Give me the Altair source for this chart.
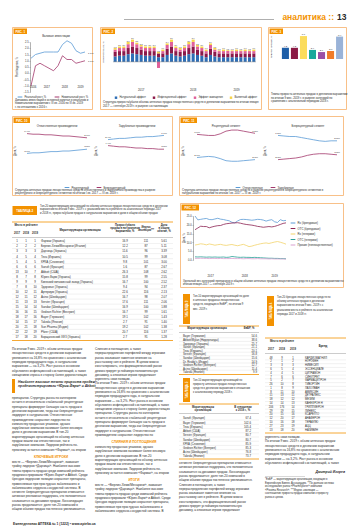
import json
import textwrap
import altair as alt
import pandas as pd

FONT = "Liberation Sans"
ORANGE = "#f39200"
BOXC = "#f6b06a"
INK = "#2a2a2a"
RULE = "#cfcfcf"
BLUE = "#5b9bd5"
PURP = "#a3386c"

# ======================= DATA =======================
HEADER_WORD = "аналитика ::"
HEADER_PAGE = "13"

# Рис. 1
F1_PERIODS = ["III кв.", "IV кв.", "I кв.", "II кв.", "III кв.", "IV кв.", "I кв.",
              "II кв.", "III кв.", "IV кв.", "I кв.", "II кв.", "III кв."]
F1_YEARS = ["2016", "2017", "2018", "2019"]
F1_YEAR_POS = [0.5, 3.5, 7.5, 11.0]
F1_SERIES = ["Реальный рост, %", "Номинальный рост, %"]
F1_REAL = [1.2, 1.5, 1.6, 1.7, 1.7, 1.7, 1.7, 2.3, 2.6, 2.4, 1.8, 1.6, 1.7]
F1_NOMINAL = [-1.0, 0.6, 0.8, 0.6, 0.4, 0.2, 0.6, 1.4, 1.1, 1.1, 0.8, 0.9, 1.0]
F1_TICKS = [-1.5, -1.0, -0.5, 0.0, 0.5, 1.0, 1.5, 2.0, 2.5]

# Рис. 2
F2_MONTHS = ["Январь", "Февраль", "Март", "Апрель", "Май", "Июнь", "Июль", "Август",
             "Сентябрь", "Октябрь", "Ноябрь", "Декабрь",
             "Январь", "Февраль", "Март", "Апрель", "Май", "Июнь", "Июль", "Август",
             "Сентябрь", "Октябрь", "Ноябрь", "Декабрь",
             "Январь", "Февраль", "Март", "Апрель", "Май", "Июнь", "Июль", "Август", "Сентябрь"]
F2_MONTH_YEARS = ["2017"] * 12 + ["2018"] * 12 + ["2019"] * 9
F2_COMPONENTS = ["Натуральный эффект", "Инфляционный эффект", "Эффект замещения", "Валютный эффект"]
F2_BLUE = [0.7, 0.8, 0.8, 1.0, 1.1, 1.0, 0.9, 0.8, 0.8, 0.8, 0.6, 0.6,
           0.9, 1.1, 0.8, 0.7, 0.8, 1.0, 1.1, 0.9, 0.8, 0.6, 0.9, 0.7,
           0.6, 0.6, 0.6, 0.6, 0.6, 0.6, 0.6, 0.6, 0.6]
F2_MAROON = [0.6, 0.6, 0.6, 0.8, 0.9, 0.8, 0.7, 0.6, 0.6, 0.6, 0.5, 0.5,
             0.8, 0.9, 0.6, 0.6, 0.6, 0.8, 0.9, 0.7, 0.6, 0.5, 0.8, 0.6,
             0.5, 0.5, 0.5, 0.5, 0.5, 0.5, 0.5, 0.5, 0.5]
F2_PINK = [0.3, 0.4, 0.4, 0.5, 0.6, 0.5, 0.4, 0.4, 0.4, 0.4, -0.8, 0.3,
           0.5, 0.6, 0.4, 0.3, 0.4, 0.5, 0.6, 0.4, 0.4, 0.3, 0.5, 0.3,
           0.3, 0.3, 0.3, 0.3, 0.3, 0.3, 0.3, 0.3, 0.3]
F2_YELLOW = [0.2, 0.2, 0.2, 0.3, 0.3, 0.2, 0.2, 0.2, 0.2, 0.2, 0.2, 0.2,
             0.2, 0.3, 0.2, 0.2, 0.2, 0.3, 0.3, 0.2, 0.2, 0.2, 0.2, 0.2,
             0.1, 0.2, 0.1, 0.1, 0.2, 0.1, 0.2, 0.1, 0.2]
F2_COLORS = ["#2f6eb5", "#8b1a4a", "#e0609a", "#f7d44a"]
F2_TICKS = [-1.0, -0.5, 0.0, 0.5, 1.0, 1.5, 2.0, 2.5, 3.0, 3.5]

# Рис. 3
F3_CATS = ["Лекарственные средства", "Медицинские изделия", "Диетические добавки",
           "Косметика", "Лечебная косметика и гигиена", "Детское питание", "Рынок в целом"]
F3_VALUES = [4.2, 4.2, 8.6, 3.4, 2.6, 3.0, 8.4]
F3_COLORS = ["#1f5fa8", "#8b1a45", "#fbdc5c", "#1aa89c", "#9b4fa5", "#f07c2a", "#9ab3d8"]
F3_TICKS = [0, 1, 2, 3, 4, 5, 6, 7, 8, 9]

# Рис. 10 / 11
QUARTERS = ["I кв. 2017", "II кв. 2017", "III кв. 2017", "IV кв. 2017",
            "I кв. 2018", "II кв. 2018", "III кв. 2018", "IV кв. 2018",
            "I кв. 2019", "II кв. 2019", "III кв. 2019"]
SEG_SERIES = ["Рецептурный", "Безрецептурный"]
F10_L_BLUE = [3.1, 3.2, 3.2, 3.3, 3.4, 3.4, 3.5, 3.5, 3.6, 3.7, 3.8]
F10_L_PURP = [6.4, 6.3, 6.3, 6.2, 6.2, 6.1, 6.0, 6.0, 5.9, 5.8, 5.7]
F10_R_BLUE = [5.4, 5.5, 5.6, 5.6, 5.7, 5.8, 5.8, 5.9, 5.9, 6.0, 6.1]
F10_R_PURP = [4.4, 4.3, 4.2, 4.2, 4.1, 4.0, 4.0, 3.9, 3.9, 3.8, 3.8]
F11_L_BLUE = [2.7, 2.8, 2.9, 2.8, 2.5, 2.1, 2.0, 2.0, 2.1, 2.2, 2.3]
F11_L_PURP = [7.0, 6.9, 6.8, 6.8, 7.1, 7.6, 7.8, 7.8, 7.6, 7.4, 7.2]
F11_R_BLUE = [6.8, 6.7, 6.6, 6.6, 6.4, 6.2, 6.0, 5.8, 5.7, 5.8, 5.8]
F11_R_PURP = [2.3, 2.4, 2.5, 2.6, 2.8, 3.1, 3.3, 3.4, 3.4, 3.3, 3.2]
F10_TICKS = [0, 1, 2, 3, 4, 5, 6, 7]
F11_TICKS = [0, 1, 2, 3, 4, 5, 6, 7, 8]

# Рис. 12
F12_SERIES = ["Rx (брендовые)", "OTC (брендовые)", "Rx (генерики)", "OTC (генерики)",
              "Прочие (нелекарственные)"]
F12_COLORS = ["#5b9bd5", "#8b2252", "#f3d36b", "#2aa198", "#d9a0d0"]
F12_A = [25.0, 22.8, 23.1, 23.4, 23.6, 23.0, 22.9, 23.3, 23.7, 23.2, 23.0, 22.6,
         22.3, 21.4, 21.1, 22.2, 23.0, 23.1, 23.0, 22.8, 22.6, 22.8, 23.1, 23.0,
         22.7, 22.1, 22.6, 22.9, 21.7, 21.3, 22.9, 22.3, 22.5]
F12_B = [17.2, 18.2, 19.2, 19.0, 19.0, 18.3, 18.8, 19.2, 19.5, 19.6, 20.2, 20.6,
         20.8, 21.0, 21.1, 21.2, 20.9, 20.5, 20.2, 20.0, 19.8, 19.5, 19.1, 18.9,
         18.6, 18.8, 19.0, 18.8, 19.1, 19.6, 20.2, 20.8, 21.1]
F12_C = [8.5, 8.8, 9.2, 9.0, 8.6, 9.1, 8.8, 8.4, 8.7, 8.9, 8.5, 8.3,
         8.6, 8.8, 8.4, 8.1, 8.5, 8.9, 8.3, 7.6, 7.9, 8.4, 8.8, 9.2,
         9.5, 9.7, 9.4, 9.8, 10.2, 10.5, 10.1, 9.6, 9.0]
F12_D = [1.8, 1.7, 1.8, 1.7, 1.6, 1.7, 1.6, 1.7, 1.6, 1.6, 1.7, 1.5,
         1.6, 2.0, 1.8, 1.6, 1.5, 1.6, 1.5, 1.5, 1.4, 1.5, 1.4, 1.3,
         1.2, 1.1, 1.0, 1.0, 0.9, 0.9, 0.8, 0.8, 0.7]
F12_E = [0.9, 0.9, 1.0, 0.9, 0.9, 0.8, 0.9, 0.9, 0.8, 0.9, 0.8, 0.8,
         0.8, 0.9, 0.8, 0.8, 0.8, 0.7, 0.8, 0.8, 0.7, 0.7, 0.8, 0.7,
         0.7, 0.7, 0.6, 0.7, 0.6, 0.6, 0.6, 0.6, 0.5]
F12_TICKS = [0, 5, 10, 15, 20, 25]

# Таблица 2
T2_R17 = [1, 2, 3, 4, 5, 6, 13, 8, 9, 7, 10, 12, 11, 15, 16, 18, 14, 20, 22, 17]
T2_R18 = [1, 2, 3, 5, 4, 6, 10, 7, 9, 8, 12, 11, 13, 14, 16, 17, 15, 21, 22, 18]
T2_R19 = list(range(1, 21))
T2_NAMES = ["Фармак (Украина)", "Берлин-Хеми/Менарини (Италия)", "Дарница (Украина)",
            "Teva (Израиль)", "КРКА (Словения)", "Sanofi (Франция)", "Abbott (США)",
            "Юрия-Фарм (Украина)", "Киевский витаминный завод (Украина)", "Здоровье (Украина)",
            "Артериум (Украина)", "Acino (Швейцария)", "Servier (Франция)", "Sandoz (Швейцария)",
            "Gedeon Richter (Венгрия)", "Bayer (Германия)", "Takeda (Япония)",
            "Sun Pharma (Индия)", "Pfizer (США)", "Борщаговский ХФЗ (Украина)"]
T2_GROWTH = [16.9, 12.2, 11.6, 10.5, 9.8, 1.6, 26.3, 15.8, 16.7, 9.4,
             22.6, 16.7, 17.6, 16.9, 16.7, 19.1, 2.7, 19.2, 20.7, 2.7]
T2_INDEX = [111, 87, 96, 99, 101, 87, 108, 99, 100, 94,
            116, 98, 111, 100, 99, 102, 91, 102, 116, 91]
T2_SHARE = [5.61, 5.11, 3.39, 3.08, 3.00, 2.67, 2.62, 2.55, 2.52, 2.37,
            2.13, 2.07, 2.06, 1.88, 1.61, 1.43, 1.40, 1.38, 1.37, 1.28]

# Таблица 3
T3_NAMES = ["Bayer (Германия)", "Abbott/Mylan (Нидерланды)", "Здоровье (Украина)",
            "Sanofi (Франция)", "Teva (Израиль)", "Servier (Франция)", "Sandoz (Швейцария)",
            "Dr. Reddy's (Индия)", "Gedeon Richter (Венгрия)", "Acino (Швейцария)",
            "Takeda (Япония)"]
T3_VALUES = [54.6, 38.6, 25.7, 21.1, 20.1, 16.8, 15.6, 14.9, 12.7, 11.4, 9.9]

# Таблица 5
T5_NAMES = ["Sanofi (Франция)", "Bayer (Германия)", "Teva (Израиль)", "Abbott (США)",
            "Servier (Франция)", "Sandoz (Швейцария)", "КРКА (Словения)",
            "Gedeon Richter (Венгрия)", "Acino (Швейцария)", "Takeda (Япония)"]
T5_VALUES = [67.4, 102.6, 105.4, 87.2, 80.7, 80.7, 85.9, 85.3, 76.8, 73.7]

# Таблица 4
T4_R17 = [48, 2, 3, 6, 4, 7, 5, 26, 1, 8, 11, 18, 14, 206, 29, 20, 12, 10, 27, 13]
T4_R18 = [9, 1, 3, 5, 4, 6, 2, 10, 8, 11, 13, 12, 14, 176, 19, 15, 20, 16, 23, 18]
T4_R19 = list(range(1, 21))
T4_BRANDS = ["КАРДИОМАГНИЛ", "НУРОФЕН", "НИМЕСИЛ", "ЭССЕНЦИАЛЕ", "ЦИТРАМОН", "СИНУПРЕТ",
             "ФАРМАЦИТРОН", "ТИВОРТИН", "ЛАЗОЛВАН", "АМИКСИН", "ДЕТРАЛЕКС", "МЕЗИМ",
             "КАНЕФРОН Н", "ГРИППФЕРОН", "ЛИНЕКС", "КСАРЕЛТО", "АНАФЕРОН", "ТЕРАФЛЮ",
             "АЦЦ", "НАЗИВИН"]

# Тексты
CAP1 = ("Динамика инвестиций в основной капитал в реальном и номинальном выражении "
        "с III кв. 2016 по III кв. 2019 г. по отношению к 2016 г.")
CAP2 = ("Структура прироста/убыли объема аптечных продаж лекарственных средств в денежном "
        "выражении по итогам января 2017 — сентября 2019 г. в разрезе составляющих")
CAP3 = ("Темпы прироста аптечных продаж в денежном выражении по итогам 9 мес. 2019 г. "
        "в разрезе категорий по сравнению с аналогичным периодом 2018 г.")
CAP10 = ("Структура аптечных продаж лекарственных средств отечественного и зарубежного "
         "производства в разрезе рецептурного и безрецептурного сегментов по итогам I кв. 2017 — III кв. 2019 г.")
CAP11 = ("Структура аптечных продаж лекарственных средств в разрезе рецептурного и безрецептурного "
         "сегментов в натуральном выражении по итогам I кв. 2017 — III кв. 2019 г.")
CAP12 = ("Удельный вес категорий препаратов в общем объеме аптечных продаж лекарственных средств "
         "в денежном выражении по итогам января 2017 — сентября 2019 г.")
T2_INTRO = ("Топ-20 маркетирующих организаций по объему аптечных продаж лекарственных средств "
            "в денежном выражении по итогам 9 мес. 2019 г. с указанием места в рейтинге за "
            "аналогичные периоды 2017 и 2018 гг., прироста/убыли продаж в натуральном выражении "
            "и доли в общем объеме продаж")
T3_INTRO = ("Топ-10 маркетирующих организаций по доле в аптечных продажах лекарственных "
            "средств, входящих в ЕвБР*, по итогам 9 мес. 2019 г.")
T5_INTRO = ("Топ-10 маркетирующих организаций по приросту аптечных продаж лекарственных "
            "средств в денежном выражении в отношении к аналогичному периоду 2018 г.")
T4_INTRO = ("Топ-20 брендов лекарственных средств по объему аптечных продаж в денежном "
            "выражении по итогам 9 мес. 2019 г. с указанием места в рейтинге за "
            "аналогичные периоды 2017 и 2018 гг.")
QUOTE = "Наиболее высокие темпы прироста продаж продемонстрировали «Юрия-Фарм» и Abbott"
HEAD_A = "КЛЮЧЕВЫЕ ИГРОКИ"
HEAD_B = "СЛИЯНИЯ И ПОГЛОЩЕНИЯ"
HEAD_C = "ИТОГИ"
SIGNATURE = "Дмитрий Игорев"
FOOTNOTES = ("*ЕвБР — маркетирующие организации, входящие в Европейскую Бизнес Ассоциацию. "
             "**По данным системы исследования рынка «PharmXplorer» компании «Proxima Research». "
             "***Индекс эволюции — соотношение прироста продаж компании к приросту рынка в целом.")
FOOTER = "Еженедельник АПТЕКА № 1 (1222) • www.apteka.ua"
POOL = (
    "По итогам 9 мес. 2019 г. объем аптечных продаж лекарственных средств в денежном выражении "
    "увеличился на 16,8% по сравнению с аналогичным периодом предыдущего года, в натуральном "
    "выражении — на 3,2%. Рост рынка в основном обусловлен инфляционной составляющей, а также "
    "смещением спроса в сторону более дорогостоящих препаратов. Структура рынка по категориям "
    "остается относительно стабильной: рецептурные препараты формируют большую часть продаж в "
    "денежном выражении, тогда как безрецептурные лидируют в натуральном. Отечественные "
    "производители сохраняют лидерство по количеству проданных упаковок, однако зарубежные "
    "компании занимают более весомую долю в денежном выражении. В топ-20 маркетирующих "
    "организаций по объему аптечных продаж вошли как отечественные, так и зарубежные компании. "
    "Лидером рейтинга по-прежнему остается компания «Фармак», на втором месте — «Берлин-Хеми/"
    "Менарини», замыкает тройку лидеров «Дарница». Наиболее высокие темпы прироста продаж среди "
    "компаний рейтинга продемонстрировали «Юрия-Фарм» и Abbott. Среди брендов лидерские позиции "
    "сохраняют препараты, применяемые при простудных заболеваниях и заболеваниях "
    "сердечно-сосудистой системы. В сегменте безрецептурных препаратов отмечается активная "
    "рекламная поддержка, что положительно сказывается на динамике продаж. Консолидация рынка "
    "продолжается: доля топ-20 компаний в общем объеме продаж постепенно увеличивается. Слияния "
    "и поглощения, а также перераспределение портфелей между игроками рынка оказывают заметное "
    "влияние на расстановку сил в рейтинге. В целом можно констатировать, что фармацевтический "
    "рынок демонстрирует устойчивую положительную динамику, а ключевые игроки продолжают "
    "укреплять свои позиции."
)

# ======================= HELPERS =======================
ONE = pd.DataFrame({"k": [0]})
POOL_LINES = textwrap.wrap(POOL, 46)
_cursor = [0]


def take(n):
    out = []
    for _ in range(n):
        out.append(POOL_LINES[_cursor[0] % len(POOL_LINES)])
        _cursor[0] += 1
    return "\n".join(out)


def wrap(txt, width):
    return "\n".join(textwrap.wrap(txt, width))


def label(txt, x, y, size=3.0, color=INK, align="left", baseline="top", weight="normal",
          style="normal", angle=None, lh=None):
    kw = dict(font=FONT, fontSize=size, color=color, align=align, baseline=baseline,
              fontWeight=weight, fontStyle=style, lineBreak="\n")
    if angle is not None:
        kw["angle"] = angle
    if lh is not None:
        kw["lineHeight"] = lh
    return alt.Chart(ONE).mark_text(**kw).encode(x=alt.value(x), y=alt.value(y), text=alt.value(txt))


def rect(x1, y1, x2, y2, fill=None, stroke=None, sw=0.8):
    kw = {}
    if fill:
        kw["fill"] = fill
    else:
        kw["fill"] = "#ffffff"
        kw["fillOpacity"] = 0
    if stroke:
        kw["stroke"] = stroke
        kw["strokeWidth"] = sw
    return alt.Chart(ONE).mark_rect(**kw).encode(
        x=alt.value(x1), x2=alt.value(x2), y=alt.value(y1), y2=alt.value(y2))


def hline(x1, x2, y, color=RULE, sw=0.5):
    return alt.Chart(ONE).mark_rule(color=color, strokeWidth=sw).encode(
        x=alt.value(x1), x2=alt.value(x2), y=alt.value(y))


def tag(txt, x1, y1, x2, y2, size=3.0):
    return [rect(x1, y1, x2, y2, fill=ORANGE),
            label(txt, (x1 + x2) / 2, (y1 + y2) / 2, size=size, color="white", align="center",
                  baseline="middle", weight="bold")]


def vtag(txt, x1, y1, x2, y2, size=3.0):
    return [rect(x1, y1, x2, y2, fill=ORANGE),
            label(txt, (x1 + x2) / 2, (y1 + y2) / 2, size=size, color="white", align="center",
                  baseline="middle", weight="bold", angle=270)]


def unit(layers, w, h):
    return alt.layer(*layers).resolve_scale(
        x="independent", y="independent", color="independent").properties(width=w, height=h)


def small_legend(x, y, direction="horizontal", size=2.8):
    return alt.Legend(orient="none", legendX=x, legendY=y, direction=direction, title=None,
                      labelFontSize=size, labelFont=FONT, labelColor=INK, symbolSize=22,
                      symbolStrokeWidth=1, labelLimit=80, padding=0, columnPadding=5,
                      rowPadding=0.5, labelOffset=1.5, symbolOffset=0)


def line_panel(labels, names, vals_list, colors, xr, yr, ydom, yticks, yaxis_x, H,
               legend=None, lab_size=2.2, end_labels=True, lw=0.8, years=None, axis_y=None):
    n = len(labels)
    rows = []
    for name, vals in zip(names, vals_list):
        for i, v in enumerate(vals):
            rows.append({"i": i, "v": v, "s": name, "lab": f"{v:.1f}%"})
    df = pd.DataFrame(rows)
    xs = alt.Scale(domain=[0, n - 1], range=list(xr), nice=False, zero=False)
    ys = alt.Scale(domain=list(ydom), range=list(yr), nice=False, zero=False)
    ay = yr[0] if axis_y is None else axis_y
    x_ax = alt.Axis(orient="bottom", offset=ay - H, values=list(range(n)),
                    labelExpr=json.dumps(labels, ensure_ascii=False) + "[datum.value]",
                    labelAngle=270, labelFontSize=lab_size)
    y_ax = alt.Axis(orient="left", offset=-yaxis_x, values=list(yticks), format=".1f")
    color = alt.Color("s:N", scale=alt.Scale(domain=names, range=colors), legend=legend)
    layers = [alt.Chart(df).mark_line(strokeWidth=lw).encode(
        x=alt.X("i:Q", scale=xs, axis=x_ax, title=None),
        y=alt.Y("v:Q", scale=ys, axis=y_ax, title=None),
        color=color)]
    if end_labels:
        layers.append(alt.Chart(df).transform_filter(f"datum.i == 0 || datum.i == {n - 1}")
                      .mark_text(font=FONT, fontSize=2.5, color=INK, dy=-2.5)
                      .encode(x=alt.X("i:Q", scale=xs, axis=None),
                              y=alt.Y("v:Q", scale=ys, axis=None), text="lab:N"))
    if years is not None:
        ydf = pd.DataFrame({"i": years[1], "t": years[0]})
        layers.append(alt.Chart(ydf).mark_text(font=FONT, fontSize=2.8, color=INK, baseline="top")
                      .encode(x=alt.X("i:Q", scale=xs, axis=None), y=alt.value(years[2]),
                              text="t:N"))
    return alt.layer(*layers)


def table(cols, data, y0, y1, x1, x2, size=2.9):
    n = len(data[cols[0][0]])
    d = pd.DataFrame(data)
    d["i"] = list(range(n))
    ys = alt.Scale(domain=[0, n - 1], range=[y0, y1], nice=False, zero=False)
    layers = []
    sep = pd.DataFrame({"j": [k + 0.5 for k in range(n - 1)]})
    layers.append(alt.Chart(sep).mark_rule(color=RULE, strokeWidth=0.3).encode(
        x=alt.value(x1), x2=alt.value(x2), y=alt.Y("j:Q", scale=ys, axis=None)))
    for field, x, align, weight in cols:
        layers.append(alt.Chart(d).mark_text(font=FONT, fontSize=size, align=align,
                                             baseline="middle", color=INK, fontWeight=weight)
                      .encode(x=alt.value(x), y=alt.Y("i:Q", scale=ys, axis=None),
                              text=alt.Text(f"{field}:N")))
    return alt.layer(*layers)


# ======================= HEADER =======================
header = unit([
    hline(112, 262, 10.5, color="#9a9a9a", sw=0.8),
    label(HEADER_WORD, 322, 10.5, size=8.5, color=ORANGE, align="right", baseline="alphabetic",
          weight="bold"),
    label(HEADER_PAGE, 325, 10.5, size=8.5, color=INK, align="left", baseline="alphabetic",
          weight="bold"),
], 336, 12)

# ======================= РИС. 1 =======================
W1, H1 = 81, 83
fig1 = unit([
    rect(0.5, 0.5, W1 - 0.5, H1 - 0.5, stroke=BOXC),
    *tag("РИС. 1", 1.5, 1.5, 15, 7),
    label("Валовые инвестиции", 44, 8, size=2.8, align="center"),
    label("Рост/падение, %", 5, 40, size=2.6, align="center", baseline="middle", angle=270),
    line_panel(F1_PERIODS, F1_SERIES, [F1_REAL, F1_NOMINAL], [BLUE, PURP],
               (19, 73), (65, 15), (-1.5, 2.5), F1_TICKS, 18, H1,
               legend=small_legend(5, 67, size=2.6), lab_size=2.3, end_labels=False,
               years=(F1_YEARS, F1_YEAR_POS, 59), axis_y=47),
    label("1.7%", 76, 25, size=2.5),
    label("1.0%", 76, 33, size=2.5),
    label(wrap(CAP1, 54), 3, 71.5, size=2.8, lh=3.5),
], W1, H1)

# ======================= РИС. 2 =======================
W2, H2 = 162, 83
f2_keys = [f"{m} {y}" for m, y in zip(F2_MONTHS, F2_MONTH_YEARS)]
f2_rows = []
for comp, vals, o in zip(F2_COMPONENTS, [F2_BLUE, F2_MAROON, F2_PINK, F2_YELLOW], range(4)):
    for k, v in zip(f2_keys, vals):
        f2_rows.append({"per": k, "comp": comp, "val": v, "o": o})
df2 = pd.DataFrame(f2_rows)
df2t = df2.assign(pos=df2["val"].clip(lower=0)).groupby("per", sort=False).agg(
    pos=("pos", "sum"), tot=("val", "sum")).reset_index()
df2t["lab"] = df2t["tot"].map(lambda v: f"{v:.1f}")
x2s = alt.Scale(domain=f2_keys, range=[13, 156], paddingInner=0.3, paddingOuter=0.15)
y2s = alt.Scale(domain=[-1.0, 3.5], range=[42.5, 8], nice=False, zero=False)
bars2 = alt.Chart(df2).mark_bar().encode(
    x=alt.X("per:N", sort=f2_keys, scale=x2s, title=None,
            axis=alt.Axis(orient="bottom", offset=42.5 - H2, labelAngle=270, labelFontSize=2.3,
                          labelExpr="split(datum.value, ' ')[0]")),
    y=alt.Y("val:Q", stack="zero", scale=y2s, title=None,
            axis=alt.Axis(orient="left", offset=-11, values=F2_TICKS, format=".1f")),
    color=alt.Color("comp:N", scale=alt.Scale(domain=F2_COMPONENTS, range=F2_COLORS),
                    legend=alt.Legend(orient="none", legendX=14, legendY=68.5,
                                      direction="horizontal", title=None, labelFontSize=2.6,
                                      labelFont=FONT, labelColor=INK, symbolSize=6,
                                      symbolType="square", labelLimit=60, padding=0,
                                      columnPadding=6, labelOffset=1.5, symbolOffset=0)),
    order=alt.Order("o:Q"),
)
tops2 = alt.Chart(df2t).mark_text(font=FONT, fontSize=1.9, color=INK, dy=-1.6).encode(
    x=alt.X("per:N", sort=f2_keys, scale=x2s, axis=None),
    y=alt.Y("pos:Q", scale=y2s, axis=None), text="lab:N")
zero2 = alt.Chart(pd.DataFrame({"z": [0.0]})).mark_rule(color="#666", strokeWidth=0.4).encode(
    x=alt.value(13), x2=alt.value(156), y=alt.Y("z:Q", scale=y2s, axis=None))
yrs2 = alt.Chart(pd.DataFrame({"per": ["Июль 2017", "Июль 2018", "Май 2019"],
                               "t": ["2017", "2018", "2019"]})).mark_text(
    font=FONT, fontSize=2.8, color=INK, baseline="top").encode(
    x=alt.X("per:N", sort=f2_keys, scale=x2s, axis=None), y=alt.value(61.5), text="t:N")
fig2 = unit([
    rect(0.5, 0.5, W2 - 0.5, H2 - 0.5, stroke=BOXC),
    *tag("РИС. 2", 1.5, 1.5, 15, 7),
    label("Прирост/убыль, %", 3.5, 25, size=2.5, align="center", baseline="middle", angle=270),
    alt.layer(bars2, zero2, tops2, yrs2),
    label(wrap(CAP2, 108), 3, 74, size=2.8, lh=3.5),
], W2, H2)

# ======================= РИС. 3 =======================
W3, H3 = 79, 83
df3 = pd.DataFrame({"cat": F3_CATS, "v": F3_VALUES,
                    "lab": [f"{v:.1f}" for v in F3_VALUES]})
x3s = alt.Scale(domain=F3_CATS, range=[13, 76], paddingInner=0.22, paddingOuter=0.1)
y3s = alt.Scale(domain=[0, 9], range=[32, 8], nice=False, zero=False)
bars3 = alt.Chart(df3).mark_bar().encode(
    x=alt.X("cat:N", sort=F3_CATS, scale=x3s, title=None,
            axis=alt.Axis(orient="bottom", offset=32 - H3, labelAngle=270, labelFontSize=2.2,
                          labelLimit=32, ticks=False)),
    y=alt.Y("v:Q", scale=y3s, title=None,
            axis=alt.Axis(orient="left", offset=-11, values=F3_TICKS, format=".1f")),
    color=alt.Color("cat:N", scale=alt.Scale(domain=F3_CATS, range=F3_COLORS), legend=None),
)
labs3 = alt.Chart(df3).mark_text(font=FONT, fontSize=2.4, color=INK, dy=-1.8).encode(
    x=alt.X("cat:N", sort=F3_CATS, scale=x3s, axis=None),
    y=alt.Y("v:Q", scale=y3s, axis=None), text="lab:N")
fig3 = unit([
    rect(0.5, 0.5, W3 - 0.5, H3 - 0.5, stroke=BOXC),
    *tag("РИС. 3", 1.5, 1.5, 15, 7),
    label("Прирост продаж, %", 3.5, 20, size=2.5, align="center", baseline="middle", angle=270),
    alt.layer(bars3, labs3),
    label(wrap(CAP3, 52), 3, 66, size=2.8, lh=3.5),
], W3, H3)

# ======================= РИС. 10 =======================
W10, H10 = 161, 80
fig10 = unit([
    rect(0.5, 0.5, W10 - 0.5, H10 - 0.5, stroke=BOXC),
    *tag("РИС. 10", 1.5, 1.5, 18, 7),
    label("Отечественные производители", 45, 8.5, size=2.8, align="center"),
    label("Зарубежные производители", 125, 8.5, size=2.8, align="center"),
    label("Доля, %", 3.5, 35, size=2.6, align="center", baseline="middle", angle=270),
    label("Доля, %", 84.5, 35, size=2.6, align="center", baseline="middle", angle=270),
    line_panel(QUARTERS, SEG_SERIES, [F10_L_BLUE, F10_L_PURP], [BLUE, PURP],
               (15, 75), (56, 14), (0, 7), F10_TICKS, 12, H10,
               legend=small_legend(52, 68.5)),
    line_panel(QUARTERS, SEG_SERIES, [F10_R_BLUE, F10_R_PURP], [BLUE, PURP],
               (96, 152), (56, 14), (0, 7), F10_TICKS, 93, H10, legend=None),
    label(wrap(CAP10, 108), 3, 73, size=2.8, lh=3.4),
], W10, H10)

# ======================= РИС. 11 =======================
W11, H11 = 165, 80
fig11 = unit([
    rect(0.5, 0.5, W11 - 0.5, H11 - 0.5, stroke=BOXC),
    *tag("РИС. 11", 1.5, 1.5, 18, 7),
    label("Рецептурный сегмент", 47, 8.5, size=2.8, align="center"),
    label("Безрецептурный сегмент", 129, 8.5, size=2.8, align="center"),
    label("Доля, %", 4.5, 35, size=2.6, align="center", baseline="middle", angle=270),
    label("Доля, %", 86, 35, size=2.6, align="center", baseline="middle", angle=270),
    line_panel(QUARTERS, ["Отечественные", "Зарубежные"], [F11_L_BLUE, F11_L_PURP], [BLUE, PURP],
               (18, 76), (56, 13), (0, 8), F11_TICKS, 15, H11,
               legend=small_legend(56, 68.5)),
    line_panel(QUARTERS, ["Отечественные", "Зарубежные"], [F11_R_BLUE, F11_R_PURP], [BLUE, PURP],
               (99, 158), (56, 13), (0, 8), F11_TICKS, 96, H11, legend=None),
    label(wrap(CAP11, 110), 3, 73, size=2.8, lh=3.4),
], W11, H11)

# ======================= РИС. 12 =======================
W12, H12 = 165, 86
fig12 = unit([
    rect(1.5, 1.5, W12 - 0.5, H12 - 0.5, stroke=BOXC),
    *tag("РИС. 12", 2.5, 2.5, 20, 8.5),
    label("Доля, %", 5, 36, size=2.6, align="center", baseline="middle", angle=270),
    line_panel(F2_MONTHS, F12_SERIES, [F12_A, F12_B, F12_C, F12_D, F12_E], F12_COLORS,
               (16, 107), (58, 14), (0, 25), F12_TICKS, 14, H12,
               legend=small_legend(111, 18, direction="vertical", size=2.8),
               lab_size=2.1, end_labels=False,
               years=(["2017", "2018", "2019"], [5.5, 17.5, 28.0], 72.5)),
    label(wrap(CAP12, 110), 4, 77.5, size=2.8, lh=3.4),
], W12, H12)

# ======================= ТАБЛИЦА 2 =======================
WT2, HT2 = 161, 140
tab2_rows = table(
    [("r17", 5, "center", "normal"), ("r18", 14, "center", "normal"),
     ("r19", 23, "center", "normal"), ("name", 29, "left", "normal"),
     ("g", 113, "center", "normal"), ("ix", 134, "center", "normal"),
     ("sh", 152, "center", "normal")],
    {"r17": [str(v) for v in T2_R17], "r18": [str(v) for v in T2_R18],
     "r19": [str(v) for v in T2_R19], "name": T2_NAMES,
     "g": [f"{v:.1f}" for v in T2_GROWTH], "ix": [str(v) for v in T2_INDEX],
     "sh": [f"{v:.2f}" for v in T2_SHARE]},
    39, 135, 0, WT2, size=2.9)
tab2 = unit([
    *tag("ТАБЛИЦА 2", 0.5, 4, 25, 13),
    label(wrap(T2_INTRO, 92), 28, 3, size=2.7, lh=3.4),
    hline(0, WT2, 20, color=ORANGE, sw=0.8),
    label("Место в рейтинге", 14, 22, size=2.7, align="center", weight="bold"),
    label("2017", 5, 30, size=2.7, align="center", weight="bold"),
    label("2018", 14, 30, size=2.7, align="center", weight="bold"),
    label("2019", 23, 30, size=2.7, align="center", weight="bold"),
    label("Маркетирующая организация", 68, 28, size=2.8, align="center", baseline="middle",
          weight="bold"),
    label("Прирост/убыль\nпродаж в натуральном\nвыражении, %", 113, 22, size=2.6,
          align="center", weight="bold", lh=3.2),
    label("Индекс\nэволюции***", 134, 24, size=2.6, align="center", weight="bold", lh=3.2),
    label("Доля\nв общем\nобъеме, %", 152, 22, size=2.6, align="center", weight="bold", lh=3.2),
    hline(0, WT2, 35.5, color="#999999", sw=0.5),
    tab2_rows,
    hline(0, WT2, 138.5, color=ORANGE, sw=0.8),
], WT2, HT2)

# ======================= ТЕКСТ (левая колонка) =======================
WTL, HTL = 161, 184
textL = unit([
    label(take(7), 0, 0, size=3.1, lh=4.3),
    rect(0, 31, 3, 45, fill=ORANGE),
    label(wrap(QUOTE, 40), 6, 32, size=3.4, lh=4.4, style="italic", weight="bold"),
    label(take(13), 0, 49, size=3.1, lh=4.3),
    label(HEAD_A, 39, 107, size=3.3, color=ORANGE, align="center", weight="bold"),
    label(take(12), 0, 113, size=3.1, lh=4.3),
    label(take(21), 83, 0, size=3.1, lh=4.3),
    label(HEAD_B, 122, 92, size=3.3, color=ORANGE, align="center", weight="bold"),
    label(take(7), 83, 98, size=3.1, lh=4.3),
    label(HEAD_C, 122, 130, size=3.3, color=ORANGE, align="center", weight="bold"),
    label(take(7), 83, 136, size=3.1, lh=4.3),
    label(FOOTER, 1, 174, size=3.3, weight="bold"),
], WTL, HTL)

# ======================= ТАБЛИЦЫ 3 и 5 + текст =======================
WM, HM = 80, 238
tab3_rows = table([("name", 4, "left", "normal"), ("v", 78, "right", "normal")],
                  {"name": T3_NAMES, "v": [f"{v:.1f}" for v in T3_VALUES]},
                  42, 78, 0, WM, size=2.8)
tab5_rows = table([("name", 4, "left", "normal"), ("v", 72, "right", "normal")],
                  {"name": T5_NAMES, "v": [f"{v:.1f}" for v in T5_VALUES]},
                  124, 162, 0, WM, size=2.8)
mid = unit([
    *vtag("ТАБЛИЦА 3", 4, 0, 11, 30),
    label(wrap(T3_INTRO, 40), 14, 1, size=2.7, lh=4.2),
    hline(0, WM, 32, color=ORANGE, sw=0.8),
    label("Маркетирующая организация", 28, 33.5, size=2.7, align="center", weight="bold"),
    label("ЕвБР, %", 70, 33.5, size=2.7, align="center", weight="bold"),
    hline(0, WM, 38.5, color="#999999", sw=0.5),
    tab3_rows,
    hline(0, WM, 80.5, color=ORANGE, sw=0.8),
    *vtag("ТАБЛИЦА 5", 4, 84, 11, 108),
    label(wrap(T5_INTRO, 40), 14, 84.5, size=2.7, lh=4.0),
    hline(0, WM, 110, color=ORANGE, sw=0.8),
    label("Маркетирующая\nорганизация", 24, 111.5, size=2.7, align="center", weight="bold",
          lh=3.3),
    label("В отношении\nк 2018 г., %", 64, 111.5, size=2.7, align="center", weight="bold",
          lh=3.3),
    hline(0, WM, 119.5, color="#999999", sw=0.5),
    tab5_rows,
    hline(0, WM, 165, color=ORANGE, sw=0.8),
    label(take(12), 0, 168, size=3.1, lh=4.3),
], WM, HM)

# ======================= ТАБЛИЦА 4 + текст =======================
WR, HR = 81, 238
tab4_rows = table(
    [("r17", 6, "center", "normal"), ("r18", 17, "center", "normal"),
     ("r19", 28, "center", "normal"), ("b", 40, "left", "normal")],
    {"r17": [str(v) for v in T4_R17], "r18": [str(v) for v in T4_R18],
     "r19": [str(v) for v in T4_R19], "b": T4_BRANDS},
    64, 136, 0, WR, size=2.7)
right = unit([
    *vtag("ТАБЛИЦА 4", 2, 2, 9, 32),
    label(wrap(T4_INTRO, 42), 12, 2, size=2.7, lh=4.2),
    hline(0, WR, 44, color=ORANGE, sw=0.8),
    label("Место в рейтинге", 17, 46, size=2.8, align="center", weight="bold"),
    label("2017", 6, 54, size=2.7, align="center", weight="bold"),
    label("2018", 17, 54, size=2.7, align="center", weight="bold"),
    label("2019", 28, 54, size=2.7, align="center", weight="bold"),
    label("Бренд", 58, 52, size=2.8, align="center", weight="bold", baseline="middle"),
    hline(0, WR, 59.5, color="#999999", sw=0.5),
    tab4_rows,
    hline(0, WR, 139, color=ORANGE, sw=0.8),
    label(take(7), 0, 142, size=3.1, lh=4.3),
    label(SIGNATURE, 80, 176, size=3.4, align="right", weight="bold", style="italic"),
    hline(0, 40, 182.5, color="#999999", sw=0.4),
    label(wrap(FOOTNOTES, 50), 0, 184, size=2.6, lh=3.5),
], WR, HR)

# ======================= LAYOUT =======================
row1 = alt.hconcat(fig1, fig2, fig3, spacing=4)
row2 = alt.hconcat(fig10, fig11, spacing=4)
row3 = alt.hconcat(
    alt.vconcat(tab2, textL, spacing=4),
    alt.vconcat(fig12, alt.hconcat(mid, right, spacing=4), spacing=4),
    spacing=4,
)

chart = alt.vconcat(header, row1, row2, row3, spacing=4).properties(
    padding={"left": 3, "top": 0, "right": 1, "bottom": 1},
    background="white",
).configure_view(stroke="transparent").configure_axis(
    labelFont=FONT, labelFontSize=2.6, labelColor=INK, labelPadding=0.8,
    tickSize=1, tickWidth=0.4, tickColor="#666666", domainColor="#666666", domainWidth=0.5,
    grid=False, minExtent=0, maxExtent=200, labelOverlap=False, labelFlush=False,
    labelBound=False,
)

chart.save("out.html", embed_options={"renderer": "svg", "actions": False})
